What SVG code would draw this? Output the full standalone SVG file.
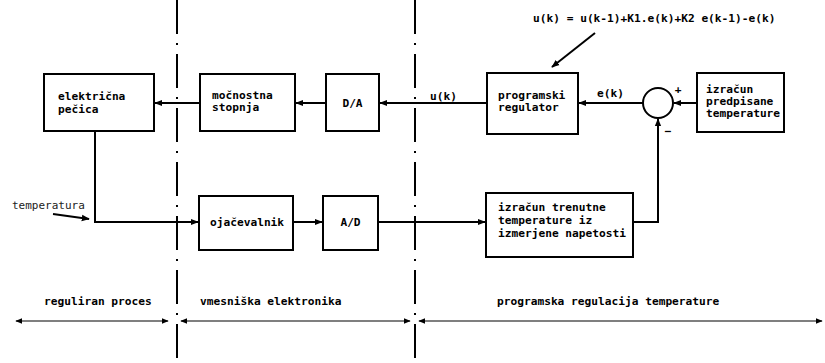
<svg xmlns="http://www.w3.org/2000/svg" width="825" height="363" viewBox="0 0 825 363">
<style>
.box{fill:#fff;stroke:#000;stroke-width:2}
.t{font-family:"DejaVu Sans Mono","Liberation Mono",monospace;font-weight:bold;font-size:11.2px;fill:#000}
.lt{font-family:"DejaVu Sans Mono","Liberation Mono",monospace;font-weight:normal;font-size:11px;fill:#222}
.c{fill:none;stroke:#000;stroke-width:2}
.thin{fill:none;stroke:#000;stroke-width:1.2}
.sep{fill:none;stroke:#000;stroke-width:2;stroke-dasharray:34 9 2 9}
</style>
<defs>
<marker id="ah" viewBox="0 0 10 10" refX="9" refY="5" markerWidth="4" markerHeight="4" orient="auto-start-reverse" markerUnits="strokeWidth"><path d="M0,1 L10,5 L0,9 Z" fill="#000"/></marker>
<marker id="ah2" viewBox="0 0 10 10" refX="9" refY="5" markerWidth="6" markerHeight="6" orient="auto-start-reverse" markerUnits="strokeWidth"><path d="M0,1 L10,5 L0,9 Z" fill="#000"/></marker>
</defs>
<rect width="825" height="363" fill="#fff"/>
<g id="separators">
<line class="sep" x1="177" y1="0" x2="177" y2="363"/>
<line class="sep" x1="415" y1="0" x2="415" y2="363"/>
</g>
<g id="formula">
<text class="t" x="533" y="22">u(k) = u(k-1)+K1.e(k)+K2 e(k-1)-e(k)</text>
</g>
<g id="pecica"><rect class="box" x="44" y="74" width="110" height="57"/><text class="t" x="58" y="100">električna</text><text class="t" x="58" y="113">pečica</text></g>
<g id="mocnostna"><rect class="box" x="200" y="74" width="95" height="57"/><text class="t" x="212" y="99">močnostna</text><text class="t" x="212" y="111">stopnja</text></g>
<g id="da"><rect class="box" x="326" y="74" width="53" height="57"/><text class="t" x="352.5" y="107" text-anchor="middle">D/A</text></g>
<g id="regulator"><rect class="box" x="487" y="73" width="91" height="61"/><text class="t" x="498" y="99">programski</text><text class="t" x="498" y="111">regulator</text></g>
<g id="predpisane"><rect class="box" x="697" y="73" width="87" height="59"/><text class="t" x="706" y="93">izračun</text><text class="t" x="706" y="105">predpisane</text><text class="t" x="706" y="117">temperature</text></g>
<g id="sum"><circle class="c" cx="658" cy="103" r="15" fill="#fff"/><text class="t" x="678" y="93" text-anchor="middle">+</text><text class="t" x="668" y="135" text-anchor="middle">−</text></g>
<g id="ojacevalnik"><rect class="box" x="199" y="196" width="94" height="54"/><text class="t" x="210" y="226">ojačevalnik</text></g>
<g id="ad"><rect class="box" x="323" y="196" width="55" height="54"/><text class="t" x="350.5" y="226" text-anchor="middle">A/D</text></g>
<g id="trenutne"><rect class="box" x="486" y="193" width="147" height="64"/><text class="t" x="498" y="211">izračun trenutne</text><text class="t" x="498" y="224">temperature iz</text><text class="t" x="498" y="237">izmerjene napetosti</text></g>
<g id="connectors">
<line class="c" x1="200" y1="103" x2="155" y2="103" marker-end="url(#ah)"/>
<line class="c" x1="326" y1="103" x2="296" y2="103" marker-end="url(#ah)"/>
<line class="c" x1="487" y1="103" x2="380" y2="103" marker-end="url(#ah)"/>
<line class="c" x1="643" y1="103" x2="579" y2="103" marker-end="url(#ah)"/>
<line class="c" x1="697" y1="103" x2="674" y2="103" marker-end="url(#ah)"/>
<path class="c" d="M633,222 H658 V119" marker-end="url(#ah)"/>
<path class="c" d="M95,131 V222 H198" marker-end="url(#ah)"/>
<line class="c" x1="293" y1="222" x2="322" y2="222" marker-end="url(#ah)"/>
<line class="c" x1="378" y1="222" x2="485" y2="222" marker-end="url(#ah)"/>
<line class="c" x1="595" y1="33" x2="552" y2="67" marker-end="url(#ah)"/>
<line class="c" x1="53" y1="214" x2="89" y2="219" stroke-width="1.5" marker-end="url(#ah)"/>
<line class="thin" x1="16" y1="321" x2="168" y2="321" marker-start="url(#ah2)" marker-end="url(#ah2)"/>
<line class="thin" x1="181" y1="321" x2="410" y2="321" marker-start="url(#ah2)" marker-end="url(#ah2)"/>
<line class="thin" x1="419" y1="321" x2="822" y2="321" marker-start="url(#ah2)" marker-end="url(#ah2)"/>
</g>
<g id="labels">
<text class="t" x="430" y="100">u(k)</text>
<text class="t" x="597" y="97">e(k)</text>
<text class="lt" x="12" y="209">temperatura</text>
<text class="t" x="44" y="305">reguliran proces</text>
<text class="t" x="200" y="305">vmesniška elektronika</text>
<text class="t" x="497" y="305">programska regulacija temperature</text>
</g>
</svg>
